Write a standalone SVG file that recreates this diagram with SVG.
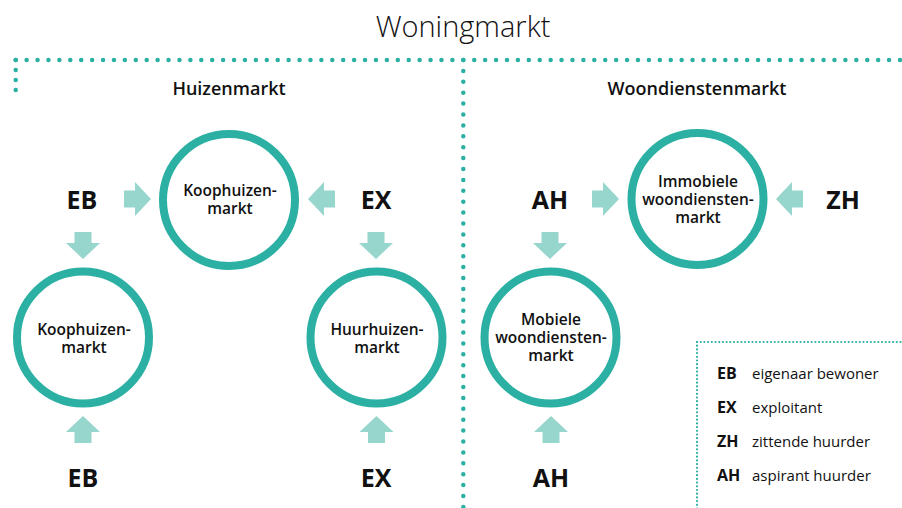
<svg xmlns="http://www.w3.org/2000/svg" xmlns:xlink="http://www.w3.org/1999/xlink" width="902" height="508" viewBox="0 0 902 508">
<style>
.dot{fill:none;stroke:#2bb0a3;stroke-width:4.5;stroke-linecap:round}
.ldot{fill:none;stroke:#2bb0a3;stroke-width:2.2;stroke-linecap:round;stroke-dasharray:0 3.7}
.ring{fill:#fff;stroke:#2bb0a3;stroke-width:8}
.arr{fill:#97d6cd}
.ct{font-family:"Open Sans","DejaVu Sans",sans-serif;font-size:15.5px;font-weight:600;fill:#111;text-anchor:middle}
.big{font-family:"Open Sans","DejaVu Sans",sans-serif;font-size:25px;font-weight:700;fill:#111;text-anchor:middle}
.hd{font-family:"Open Sans","DejaVu Sans",sans-serif;font-size:18px;font-weight:600;fill:#111;text-anchor:middle}
.lk{font-family:"Open Sans","DejaVu Sans",sans-serif;font-size:16px;font-weight:700;fill:#111}
.lt{font-family:"Open Sans","DejaVu Sans",sans-serif;font-size:15px;font-weight:400;fill:#111}
</style>
<defs>
<path id="arrow" class="arr" d="M-27,-8.5 H-16 V-17 L0,0 L-16,17 V8.5 H-27 Z"/>
</defs>
<rect width="902" height="508" fill="#fff"/>
<text x="463" y="37" font-family="Open Sans, DejaVu Sans, sans-serif" font-size="29" font-weight="300" fill="#111" text-anchor="middle">Woningmarkt</text>
<g id="frame">
<line class="dot" x1="15.7" y1="60" x2="905" y2="60" stroke-dasharray="0 10.917"/>
<line class="dot" x1="15.7" y1="60" x2="15.7" y2="91" stroke-dasharray="0 10"/>
<line class="dot" x1="463.3" y1="60" x2="463.3" y2="510" stroke-dasharray="0 10.9"/>
</g>
<text class="hd" x="229" y="95">Huizenmarkt</text>
<text class="hd" x="697" y="95">Woondienstenmarkt</text>
<g id="connectors">
<use xlink:href="#arrow" transform="translate(151,199)"/>
<use xlink:href="#arrow" transform="translate(308,199) rotate(180)"/>
<use xlink:href="#arrow" transform="translate(83,259) rotate(90)"/>
<use xlink:href="#arrow" transform="translate(376,259) rotate(90)"/>
<use xlink:href="#arrow" transform="translate(83,416) rotate(-90)"/>
<use xlink:href="#arrow" transform="translate(376.5,416) rotate(-90)"/>
<use xlink:href="#arrow" transform="translate(619,199)"/>
<use xlink:href="#arrow" transform="translate(776,199) rotate(180)"/>
<use xlink:href="#arrow" transform="translate(550,259) rotate(90)"/>
<use xlink:href="#arrow" transform="translate(551,416) rotate(-90)"/>
</g>
<g id="koop-top">
<circle class="ring" cx="229" cy="200" r="66"/>
<text class="ct" x="230" y="196">Koophuizen-</text>
<text class="ct" x="230" y="214">markt</text>
</g>
<g id="koop-bottom">
<circle class="ring" cx="83" cy="337.5" r="66"/>
<text class="ct" x="84" y="335">Koophuizen-</text>
<text class="ct" x="84" y="353">markt</text>
</g>
<g id="huur">
<circle class="ring" cx="376.5" cy="337.5" r="66"/>
<text class="ct" x="377" y="335">Huurhuizen-</text>
<text class="ct" x="377" y="353">markt</text>
</g>
<g id="immobiel">
<circle class="ring" cx="697.5" cy="199" r="66"/>
<text class="ct" x="698" y="187">Immobiele</text>
<text class="ct" x="698" y="205">woondiensten-</text>
<text class="ct" x="698" y="223">markt</text>
</g>
<g id="mobiel">
<circle class="ring" cx="550.5" cy="337.5" r="66"/>
<text class="ct" x="551" y="325">Mobiele</text>
<text class="ct" x="551" y="343">woondiensten-</text>
<text class="ct" x="551" y="361">markt</text>
</g>
<g id="eb-top"><text class="big" x="82" y="209">EB</text></g>
<g id="ex-top"><text class="big" x="376" y="209">EX</text></g>
<g id="eb-bottom"><text class="big" x="83" y="487">EB</text></g>
<g id="ex-bottom"><text class="big" x="376" y="487">EX</text></g>
<g id="ah-top"><text class="big" x="550" y="209">AH</text></g>
<g id="zh-top"><text class="big" x="843" y="209">ZH</text></g>
<g id="ah-bottom"><text class="big" x="551" y="487">AH</text></g>
<g id="legend">
<line class="ldot" x1="697" y1="342" x2="904" y2="342"/>
<line class="ldot" x1="697" y1="342" x2="697" y2="510"/>
<text class="lk" x="717" y="379">EB</text><text class="lt" x="752" y="379">eigenaar bewoner</text>
<text class="lk" x="717" y="413">EX</text><text class="lt" x="752" y="413">exploitant</text>
<text class="lk" x="717" y="447">ZH</text><text class="lt" x="752" y="447">zittende huurder</text>
<text class="lk" x="717" y="481">AH</text><text class="lt" x="752" y="481">aspirant huurder</text>
</g>
</svg>
